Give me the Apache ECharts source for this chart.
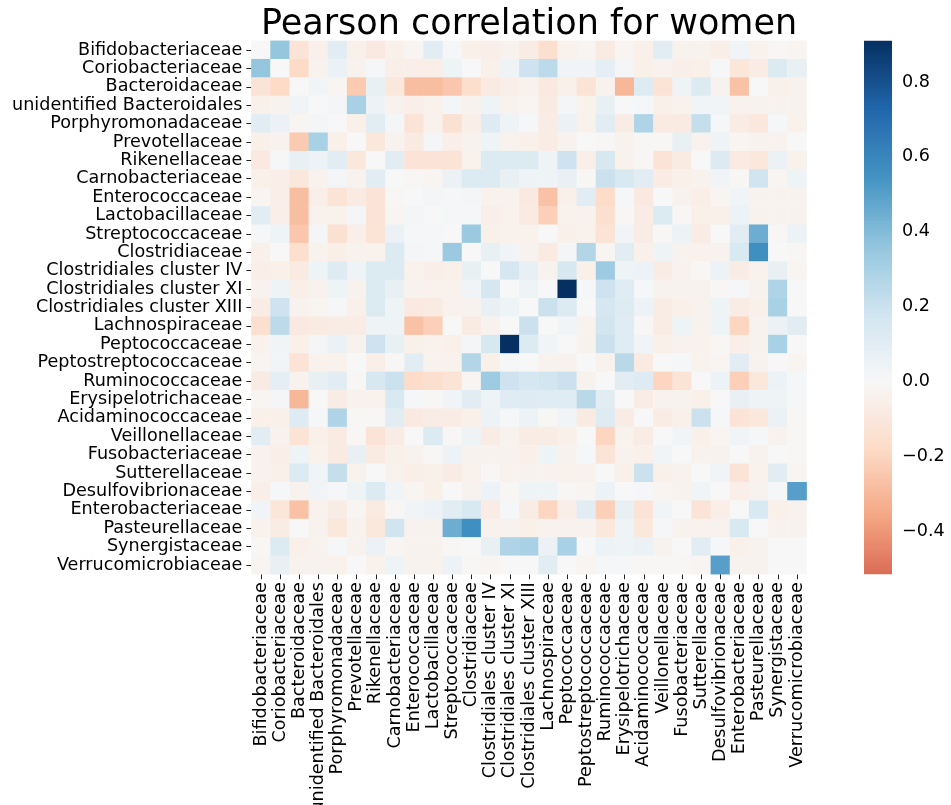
<!DOCTYPE html>
<html>
<head>
<meta charset="utf-8">
<title>Pearson correlation for women</title>
<script src="https://cdn.jsdelivr.net/npm/echarts@6/dist/echarts.min.js"></script>
<style>
  html, body { margin: 0; padding: 0; background: #fff; }
  #chart { width: 951px; height: 805px; }
</style>
</head>
<body>
<div id="chart"></div>
<script>
// Bacterial families, in row/column order of the correlation matrix
const families = [
  'Bifidobacteriaceae', 'Coriobacteriaceae', 'Bacteroidaceae', 'unidentified Bacteroidales',
  'Porphyromonadaceae', 'Prevotellaceae', 'Rikenellaceae', 'Carnobacteriaceae',
  'Enterococcaceae', 'Lactobacillaceae', 'Streptococcaceae', 'Clostridiaceae',
  'Clostridiales cluster IV', 'Clostridiales cluster XI', 'Clostridiales cluster XIII',
  'Lachnospiraceae', 'Peptococcaceae', 'Peptostreptococcaceae', 'Ruminococcaceae',
  'Erysipelotrichaceae', 'Acidaminococcaceae', 'Veillonellaceae', 'Fusobacteriaceae',
  'Sutterellaceae', 'Desulfovibrionaceae', 'Enterobacteriaceae', 'Pasteurellaceae',
  'Synergistaceae', 'Verrucomicrobiaceae'
];

// Pearson r of each family against every family (same order as above)
const bifidobacteriaceae = [0, .36, -.12, -.05, .1, -.05, -.09, -.05, -.02, .1, .01, -.05, -.06, -.03, -.07, -.15, -.04, -.02, -.08, -.02, -.05, .1, -.03, -.03, -.06, .03, -.04, -.01, -.02];
const coriobacteriaceae = [.36, 0, -.18, -.03, .06, -.03, .01, -.06, -.06, -.06, .04, 0, -.05, .04, .19, .24, .03, .03, .09, .02, -.05, -.03, -.06, -.05, .01, -.11, -.07, .13, .07];
const bacteroidaceae = [-.12, -.18, 0, .03, -.02, -.24, .07, -.1, -.28, -.28, -.25, -.16, -.08, -.06, -.03, -.09, -.05, -.13, -.03, -.3, .12, -.13, .04, .13, -.03, -.27, 0, -.05, -.03];
const unidentifiedBacteroidales = [-.05, -.03, .03, 0, .02, .3, .05, -.03, -.06, -.04, .02, -.03, .04, -.03, -.02, -.08, .02, -.04, .07, 0, .01, -.05, -.04, .03, .03, -.04, -.03, -.03, -.03];
const porphyromonadaceae = [.1, .06, -.02, .02, 0, -.05, .1, .02, -.13, -.04, -.14, -.06, .12, .04, .01, -.07, .06, -.04, .1, -.07, .28, -.08, -.08, .22, .01, -.07, -.1, .01, -.04];
const prevotellaceae = [-.05, -.03, -.24, .3, -.05, 0, -.1, -.03, -.08, .02, -.06, -.03, .04, -.03, -.05, -.07, -.03, 0, -.01, -.03, -.01, -.01, .07, -.03, .04, -.02, -.03, -.03, 0];
const rikenellaceae = [-.09, .01, .07, .05, .1, -.1, 0, .1, -.12, -.12, -.13, -.04, .13, .13, .13, .04, .19, -.06, .15, -.04, -.01, -.12, -.08, 0, .13, -.08, -.1, .06, -.04];
const carnobacteriaceae = [-.05, -.06, -.1, -.03, .02, -.03, .1, 0, -.01, -.02, .06, .13, .13, .07, .04, .04, .07, -.01, .2, .14, .1, -.07, -.05, -.03, .03, -.01, .18, -.02, .04];
const enterococcaceae = [-.02, -.06, -.28, -.06, -.13, -.08, -.12, -.01, 0, .02, .01, .02, -.04, -.03, -.09, -.27, -.05, .1, -.17, .01, -.09, 0, -.03, -.06, -.02, .03, -.03, -.03, -.03];
const lactobacillaceae = [.1, -.06, -.28, -.04, -.04, .02, -.12, -.02, .02, 0, .01, .01, -.06, -.04, -.08, -.22, -.04, -.03, -.15, -.01, -.07, .13, -.01, -.05, -.05, .05, -.03, -.03, -.03];
const streptococcaceae = [.01, .04, -.25, .02, -.14, -.06, -.13, .06, .01, .01, 0, .34, -.05, -.04, -.04, 0, -.05, -.04, -.13, .03, -.07, -.01, .05, -.07, 0, .1, .45, -.01, .05];
const clostridiaceae = [-.05, 0, -.16, -.03, -.06, -.03, -.04, .13, .02, .01, .34, 0, .07, .03, -.03, -.08, .02, .27, -.02, .1, -.05, .04, -.03, -.04, -.03, .14, .56, 0, -.01];
const clostridialesIV = [-.06, -.05, -.08, .04, .12, .04, .13, .13, -.04, -.06, -.05, .07, 0, .16, .07, -.03, .15, -.05, .33, .04, .05, -.07, -.03, -.01, .05, -.07, -.04, .07, -.02];
const clostridialesXI = [-.03, .04, -.06, -.03, .04, -.03, .13, .07, -.03, -.04, -.04, .03, .16, 0, .04, 0, .91, .01, .19, .11, .01, -.03, -.03, -.03, -.01, .01, -.03, .28, 0];
const clostridialesXIII = [-.07, .19, -.03, -.02, .01, -.05, .13, .04, -.09, -.08, -.04, -.03, .07, .04, 0, .2, .13, 0, .16, .12, .05, -.07, -.05, -.03, .04, -.07, -.05, .3, 0];
const lachnospiraceae = [-.15, .24, -.09, -.08, -.07, -.07, .04, .04, -.27, -.22, 0, -.08, -.03, 0, .2, 0, .03, -.03, .17, .11, -.01, -.07, .04, -.03, .04, -.2, -.03, .06, .1];
const peptococcaceae = [-.04, .03, -.05, .02, .06, -.03, .19, .07, -.05, -.04, -.05, .02, .15, .91, .13, .03, 0, -.03, .2, .11, .03, -.05, -.03, -.04, -.01, -.06, -.03, .3, 0];
const peptostreptococcaceae = [-.02, .03, -.13, -.04, -.04, 0, -.06, -.01, .1, -.03, -.04, .27, -.05, .01, 0, -.03, -.03, 0, -.03, .25, -.08, 0, .01, -.03, -.02, .1, -.03, 0, -.02];
const ruminococcaceae = [-.08, .09, -.03, .07, .1, -.01, .15, .2, -.17, -.15, -.13, -.02, .33, .19, .16, .17, .2, -.03, 0, .1, .12, -.2, -.13, 0, .05, -.22, -.1, .05, .01];
const erysipelotrichaceae = [-.02, .02, -.3, 0, -.07, -.03, -.04, .14, .01, -.01, .03, .1, .04, .11, .12, .11, .11, .25, .1, 0, -.07, -.03, -.03, -.05, 0, .07, .04, .04, .01];
const acidaminococcaceae = [-.05, -.05, .12, .01, .28, -.01, -.01, .1, -.09, -.07, -.07, -.05, .05, .01, .05, -.01, .03, -.08, .12, -.07, 0, -.07, -.05, .2, .01, -.12, -.1, .06, -.01];
const veillonellaceae = [.1, -.03, -.13, -.05, -.08, -.01, -.12, -.07, 0, .13, -.01, .04, -.07, -.03, -.07, -.07, -.05, 0, -.2, -.03, -.07, 0, .03, -.05, -.02, .03, .01, -.03, -.01];
const fusobacteriaceae = [-.03, -.06, .04, -.04, -.08, .07, -.08, -.05, -.03, -.01, .05, -.03, -.03, -.03, -.05, .04, -.03, .01, -.13, -.03, -.05, .03, 0, -.03, -.03, 0, -.03, 0, -.01];
const sutterellaceae = [-.03, -.05, .13, .03, .22, -.03, 0, -.03, -.06, -.05, -.07, -.04, -.01, -.03, -.03, -.03, -.04, -.03, 0, -.05, .2, -.05, -.03, 0, .03, -.12, -.04, .1, -.02];
const desulfovibrionaceae = [-.06, .01, -.03, .03, .01, .04, .13, .03, -.02, -.05, 0, -.03, .05, -.01, .04, .04, -.01, -.02, .05, 0, .01, -.02, -.03, .03, 0, -.06, -.03, .01, .5];
const enterobacteriaceae = [.03, -.11, -.27, -.04, -.07, -.02, -.08, -.01, .03, .05, .1, .14, -.07, .01, -.07, -.2, -.06, .1, -.22, .07, -.12, .03, 0, -.12, -.06, 0, .14, -.05, -.03];
const pasteurellaceae = [-.04, -.07, 0, -.03, -.1, -.03, -.1, .18, -.03, -.03, .45, .56, -.04, -.03, -.05, -.03, -.03, -.03, -.1, .04, -.1, .01, -.03, -.04, -.03, .14, 0, -.03, -.03];
const synergistaceae = [-.01, .13, -.05, -.03, .01, -.03, .06, -.02, -.03, -.03, -.01, 0, .07, .28, .3, .06, .3, 0, .05, .04, .06, -.03, 0, .1, .01, -.05, -.03, 0, 0];
const verrucomicrobiaceae = [-.02, .07, -.03, -.03, -.04, 0, -.04, .04, -.03, -.03, .05, -.01, -.02, 0, 0, .1, 0, -.02, .01, .01, -.01, -.01, -.01, -.02, .5, -.03, -.03, 0, 0];

// Colour bar range and its tick labels
const colorMin = -0.515;
const colorMax = 0.91;
const colorTicks = [-0.4, -0.2, 0.0, 0.2, 0.4, 0.6, 0.8];

const matrix = [
  bifidobacteriaceae, coriobacteriaceae, bacteroidaceae, unidentifiedBacteroidales,
  porphyromonadaceae, prevotellaceae, rikenellaceae, carnobacteriaceae,
  enterococcaceae, lactobacillaceae, streptococcaceae, clostridiaceae,
  clostridialesIV, clostridialesXI, clostridialesXIII, lachnospiraceae,
  peptococcaceae, peptostreptococcaceae, ruminococcaceae, erysipelotrichaceae,
  acidaminococcaceae, veillonellaceae, fusobacteriaceae, sutterellaceae,
  desulfovibrionaceae, enterobacteriaceae, pasteurellaceae, synergistaceae,
  verrucomicrobiaceae
];

// Diverging red-blue palette centred on zero (symmetric around 0, clipped to the colour range)
const RDBU = ['#67001f', '#b2182b', '#d6604d', '#f4a582', '#fddbc7', '#f7f7f7',
              '#d1e5f0', '#92c5de', '#4393c3', '#2166ac', '#053061'];
function hexToRgb(h) {
  return [parseInt(h.slice(1, 3), 16), parseInt(h.slice(3, 5), 16), parseInt(h.slice(5, 7), 16)];
}
function rdbu(t) {
  t = Math.max(0, Math.min(1, t));
  const p = t * (RDBU.length - 1);
  const i = Math.min(RDBU.length - 2, Math.floor(p));
  const f = p - i;
  const a = hexToRgb(RDBU[i]), b = hexToRgb(RDBU[i + 1]);
  const c = a.map((v, k) => Math.round(v + (b[k] - v) * f));
  return 'rgb(' + c.join(',') + ')';
}
const halfRange = Math.max(colorMax, -colorMin);
const STEPS = 128;
const palette = [];
for (let k = 0; k <= STEPS; k++) {
  const v = colorMin + (colorMax - colorMin) * k / STEPS;
  palette.push(rdbu((v + halfRange) / (2 * halfRange)));
}

const cells = [];
matrix.forEach((row, r) => row.forEach((v, c) => cells.push([c, r, v])));

const FONT = 'DejaVu Sans';
const LABEL_SIZE = 17.6;
// Fixed plot rectangles; labels are allowed to run past the canvas edge
const grid = { left: 251.4, top: 40.8, width: 555.2, height: 533.4, outerBoundsMode: 'none', containLabel: false };
const barGrid = { left: 864, top: 40.8, width: 28, height: 533.4, outerBoundsMode: 'none', containLabel: false };

const chart = echarts.init(document.getElementById('chart'), null, { renderer: 'canvas' });
chart.setOption({
  backgroundColor: '#ffffff',
  animation: false,
  graphic: [{
    type: 'text',
    x: grid.left + grid.width / 2,
    y: 25,
    style: {
      text: 'Pearson correlation for women',
      font: '35px "' + FONT + '"',
      fill: '#000',
      textAlign: 'center',
      textVerticalAlign: 'middle'
    }
  }],
  grid: [grid, barGrid],
  xAxis: [{
    type: 'category',
    gridIndex: 0,
    data: families,
    position: 'bottom',
    axisLine: { show: false },
    axisTick: { show: true, length: 5, alignWithLabel: true, lineStyle: { color: '#222', width: 1 } },
    axisLabel: { interval: 0, rotate: 90, fontFamily: FONT, fontSize: LABEL_SIZE, color: '#000', margin: 8 },
    splitLine: { show: false }
  }, {
    type: 'value',
    gridIndex: 1,
    min: 0,
    max: 1,
    show: false
  }],
  yAxis: [{
    type: 'category',
    gridIndex: 0,
    data: families,
    inverse: true,
    axisLine: { show: false },
    axisTick: { show: true, length: 5, alignWithLabel: true, lineStyle: { color: '#222', width: 1 } },
    axisLabel: { interval: 0, fontFamily: FONT, fontSize: LABEL_SIZE, color: '#000', margin: 9 },
    splitLine: { show: false }
  }, {
    type: 'value',
    gridIndex: 1,
    position: 'right',
    min: colorMin,
    max: colorMax,
    axisLine: { show: false },
    splitLine: { show: false },
    axisTick: { show: true, length: 5, customValues: colorTicks, lineStyle: { color: '#222', width: 1 } },
    axisLabel: {
      customValues: colorTicks,
      fontFamily: FONT,
      fontSize: LABEL_SIZE,
      color: '#000',
      margin: 10,
      formatter: v => (v < 0 ? '\u2212' : '') + Math.abs(v).toFixed(1)
    }
  }],
  visualMap: {
    show: false,
    type: 'continuous',
    seriesIndex: 0,
    dimension: 2,
    min: colorMin,
    max: colorMax,
    inRange: { color: palette }
  },
  series: [{
    type: 'heatmap',
    xAxisIndex: 0,
    yAxisIndex: 0,
    data: cells,
    itemStyle: { borderWidth: 0 },
    emphasis: { disabled: true },
    progressive: 0
  }, {
    type: 'custom',
    xAxisIndex: 1,
    yAxisIndex: 1,
    data: [[0]],
    silent: true,
    renderItem: (params, api) => {
      const top = api.coord([0, colorMax]);
      const bottom = api.coord([1, colorMin]);
      const stops = palette.map((c, i) => ({ offset: 1 - i / STEPS, color: c })).reverse();
      return {
        type: 'rect',
        shape: { x: top[0], y: top[1], width: bottom[0] - top[0], height: bottom[1] - top[1] },
        style: { fill: new echarts.graphic.LinearGradient(0, 0, 0, 1, stops) }
      };
    }
  }]
});
</script>
</body>
</html>
